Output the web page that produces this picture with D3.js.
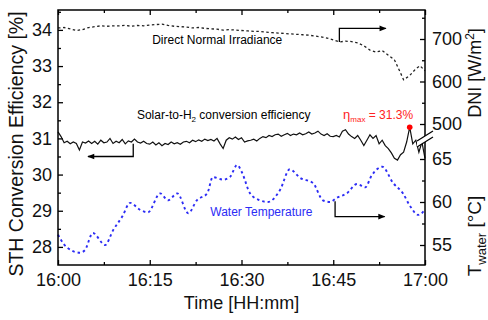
<!DOCTYPE html>
<html>
<head>
<meta charset="utf-8">
<script src="https://cdn.jsdelivr.net/npm/d3@7"></script>
<style>
  body { margin: 0; background: #fff; }
  svg { font-family: "Liberation Sans", Arial, sans-serif; }
</style>
</head>
<body>
<div id="chart"></div>
<script>
// minutes after 16:00
const xTicks = [0, 15, 30, 45, 60];
const xMinorTicks = [7.5, 22.5, 37.5, 52.5];
const xTickLabels = ['16:00', '16:15', '16:30', '16:45', '17:00'];

const effTicks = [28, 29, 30, 31, 32, 33, 34];
const effMinorTicks = [28.5, 29.5, 30.5, 31.5, 32.5, 33.5, 34.5];
const dniTicks = [500, 600, 700];
const dniMinorTicks = [550, 650, 750];
const tempTicks = [55, 60, 65];
const tempMinorTicks = [57.5, 62.5];

// Direct normal irradiance [W/m2]
const dniMin = [0, 1, 2, 3, 4, 5, 6, 7, 8, 9, 10, 11, 12, 13, 14, 15, 16, 17, 18, 19, 20,
  21, 22, 23, 24, 25, 26, 27, 28, 29, 30, 31, 32, 33, 34, 35, 36, 37, 38, 39, 40,
  41, 42, 43, 44, 45, 46, 47, 48, 49, 50, 51, 52, 53, 54, 55, 56, 56.5, 57.5, 58.5, 59.2, 60];
const dniVal = [726, 727, 724, 720, 722, 727, 729, 731, 730, 731, 731, 732, 730, 732, 731, 733, 734, 735, 732, 730, 729,
  728, 726, 727, 725, 724, 723, 721, 722, 721, 720, 719, 718, 718, 716, 715, 714, 713, 712, 711, 710,
  709, 707, 705, 702, 698, 693, 695, 694, 691, 684, 674, 669, 673, 662, 651, 620, 604, 614, 630, 637, 625];

// STH efficiency [%], one sample every 30 s
const effStep = 0.5;
const effVal = [
  31.18, 31.05, 30.88, 30.92, 30.85, 30.90, 30.86, 30.68, 30.90, 30.87,
  30.93, 30.86, 30.92, 30.84, 30.95, 30.88, 30.90, 31.00, 30.86, 30.92,
  30.88, 30.97, 30.85, 30.93, 30.90, 30.98, 30.90, 30.87, 30.92, 30.86,
  30.84, 30.90, 30.82, 30.88, 30.80, 30.86, 30.83, 30.90, 30.85, 30.88,
  30.84, 30.90, 30.92, 30.88, 30.95, 30.91, 30.96, 30.92, 30.98, 30.94,
  30.97, 30.93, 31.00, 30.85, 30.72, 30.95, 31.02, 30.98, 31.04, 30.97,
  31.02, 30.90, 30.93, 30.95, 30.98, 30.93, 31.00, 31.05, 31.02, 31.08,
  31.05, 31.10, 31.12, 31.06, 31.10, 31.14, 31.08, 31.12, 31.10, 31.15,
  31.10, 31.13, 31.18, 31.12, 31.15, 31.20, 31.12, 31.08, 31.13, 31.06,
  31.05, 31.08, 31.04, 31.20, 31.24, 31.12, 31.05, 31.00, 31.08, 30.95,
  30.80, 30.95, 31.10, 31.00, 31.08, 30.85, 30.95, 30.80, 30.72, 30.60,
  30.45, 30.40, 30.55, 30.62, 30.90, 31.31, 30.85, 30.95, 30.62, 30.90,
  30.45
];

// Water temperature [°C]
const tempMin = [0, 0.3, 1.5, 3.6, 4.4, 5.7, 7.7, 9.0, 10.5, 11.8, 13.4, 14.7, 16.7, 18.0, 19.5,
  21.3, 22.7, 24.4, 25.3, 27.0, 28.1, 29.3, 30.1, 31.4, 33.0, 34.3, 36.3, 37.9, 39.6,
  41.7, 43.3, 44.5, 45.6, 47.2, 48.9, 50.2, 51.3, 53.0, 54.8, 56.4, 57.5, 58.9, 60];
const tempVal = [56.2, 55.8, 54.7, 54.1, 54.4, 56.4, 55.0, 56.7, 58.3, 59.9, 59.1, 58.8, 61.0, 60.2, 61.0,
  58.7, 60.2, 61.0, 62.9, 62.6, 62.9, 64.3, 63.4, 61.0, 60.2, 60.0, 61.4, 63.8, 62.8,
  62.2, 60.2, 60.0, 60.5, 61.0, 62.1, 61.7, 63.1, 64.1, 62.2, 61.0, 59.6, 58.5, 59.1];

const W = 488, H = 320;
const plot = { left: 58, right: 425, top: 10, bottom: 265 };

const svg = d3.select('#chart').append('svg')
  .attr('width', W).attr('height', H);

const x = d3.scaleLinear().domain([0, 60]).range([plot.left, plot.right]);
const yEff = d3.scaleLinear().domain([27.5, 34.55]).range([plot.bottom, plot.top]);
const yDni = d3.scaleLinear().domain([500, 700]).range([124, 39]);
const yTemp = d3.scaleLinear().domain([55, 65]).range([245, 159]);

const tickFont = '18px';

function clean(g) {
  g.select('.domain').remove();
  g.selectAll('line').attr('stroke', '#000').attr('stroke-width', 1.3);
  g.selectAll('text').attr('font-size', tickFont).attr('fill', '#111').attr('font-family', null);
}

// bottom axis
svg.append('g').attr('transform', `translate(0,${plot.bottom})`)
  .call(d3.axisBottom(x).tickValues(xTicks).tickSize(-5).tickPadding(8)
    .tickFormat((d, i) => xTickLabels[i]))
  .call(clean);
svg.append('g').attr('transform', `translate(0,${plot.bottom})`)
  .call(d3.axisBottom(x).tickValues(xMinorTicks).tickSize(-3).tickFormat(''))
  .call(clean);
// top ticks
svg.append('g').attr('transform', `translate(0,${plot.top})`)
  .call(d3.axisTop(x).tickValues(xTicks).tickSize(-5).tickFormat(''))
  .call(clean);
svg.append('g').attr('transform', `translate(0,${plot.top})`)
  .call(d3.axisTop(x).tickValues(xMinorTicks).tickSize(-3).tickFormat(''))
  .call(clean);

// left axis
svg.append('g').attr('transform', `translate(${plot.left},0)`)
  .call(d3.axisLeft(yEff).tickValues(effTicks).tickSize(-5).tickPadding(6).tickFormat(d3.format('d')))
  .call(clean);
svg.append('g').attr('transform', `translate(${plot.left},0)`)
  .call(d3.axisLeft(yEff).tickValues(effMinorTicks).tickSize(-3).tickFormat(''))
  .call(clean);

// right axes
svg.append('g').attr('transform', `translate(${plot.right},0)`)
  .call(d3.axisRight(yDni).tickValues(dniTicks).tickSize(-5).tickPadding(7).tickFormat(d3.format('d')))
  .call(clean);
svg.append('g').attr('transform', `translate(${plot.right},0)`)
  .call(d3.axisRight(yDni).tickValues(dniMinorTicks).tickSize(-3).tickFormat(''))
  .call(clean);
svg.append('g').attr('transform', `translate(${plot.right},0)`)
  .call(d3.axisRight(yTemp).tickValues(tempTicks).tickSize(-5).tickPadding(7).tickFormat(d3.format('d')))
  .call(clean);
svg.append('g').attr('transform', `translate(${plot.right},0)`)
  .call(d3.axisRight(yTemp).tickValues(tempMinorTicks).tickSize(-3).tickFormat(''))
  .call(clean);

// series
const dniLine = d3.line().x((d, i) => x(dniMin[i])).y(d => yDni(d));
svg.append('path').datum(dniVal)
  .attr('d', dniLine).attr('fill', 'none')
  .attr('stroke', '#222').attr('stroke-width', 1.3).attr('stroke-dasharray', '2.5,2.5');

const tempLine = d3.line().x((d, i) => x(tempMin[i])).y(d => yTemp(d)).curve(d3.curveMonotoneX);
svg.append('path').datum(tempVal)
  .attr('d', tempLine).attr('fill', 'none')
  .attr('stroke', '#2c2cf5').attr('stroke-width', 1.9).attr('stroke-dasharray', '2.5,3');

const effLine = d3.line().x((d, i) => x(i * effStep)).y(d => yEff(d));
svg.append('path').datum(effVal)
  .attr('d', effLine).attr('fill', 'none')
  .attr('stroke', '#111').attr('stroke-width', 1.2);

// max point
const iMax = d3.maxIndex(effVal);
svg.append('circle')
  .attr('cx', x(iMax * effStep)).attr('cy', yEff(effVal[iMax]))
  .attr('r', 2.8).attr('fill', '#f00');

// frame
svg.append('rect')
  .attr('x', plot.left).attr('y', plot.top)
  .attr('width', plot.right - plot.left).attr('height', plot.bottom - plot.top)
  .attr('fill', 'none').attr('stroke', '#000').attr('stroke-width', 1.5);

// axis break on the right
const brk = svg.append('g');
brk.append('polygon')
  .attr('points', '417,141 433,131 433,137 417,147')
  .attr('fill', '#fff');
brk.append('line').attr('x1', 417).attr('y1', 141).attr('x2', 433).attr('y2', 131)
  .attr('stroke', '#000').attr('stroke-width', 1.2);
brk.append('line').attr('x1', 417).attr('y1', 147).attr('x2', 433).attr('y2', 137)
  .attr('stroke', '#000').attr('stroke-width', 1.2);

// annotations
const ann = svg.append('g').attr('font-size', '12px');
ann.append('text').attr('x', x(15.4)).attr('y', 44).text('Direct Normal Irradiance');

const solar = ann.append('text').attr('x', x(12.9)).attr('y', 119);
solar.append('tspan').text('Solar-to-H');
solar.append('tspan').attr('font-size', '8px').attr('dy', 3).text('2');
solar.append('tspan').attr('dy', -3).text(' conversion efficiency');

const eta = ann.append('text').attr('x', x(46.6)).attr('y', 119).attr('fill', '#f22');
eta.append('tspan').attr('font-size', '13px').text('η');
eta.append('tspan').attr('font-size', '8px').attr('dy', 3).text('max');
eta.append('tspan').attr('dy', -3).text(' = 31.3%');

ann.append('text').attr('x', x(24.9)).attr('y', 216).attr('fill', '#2c2cf5').text('Water Temperature');

// arrows
const defs = svg.append('defs');
defs.append('marker').attr('id', 'ah')
  .attr('viewBox', '0 0 10 10').attr('refX', 9).attr('refY', 5)
  .attr('markerWidth', 9).attr('markerHeight', 7).attr('markerUnits', 'userSpaceOnUse')
  .attr('orient', 'auto')
  .append('path').attr('d', 'M0,1 L10,5 L0,9 Z').attr('fill', '#000');

function arrow(t0, y0, y1, t1) {
  svg.append('path')
    .attr('d', `M${x(t0)},${y0} V${y1} H${x(t1)}`)
    .attr('fill', 'none').attr('stroke', '#000').attr('stroke-width', 1.3)
    .attr('marker-end', 'url(#ah)');
}
arrow(46, yDni(693), yDni(725), 53.6);
arrow(12.3, yEff(30.85), yEff(30.5), 4.9);
arrow(45.3, yTemp(60.1), yTemp(58.3), 53.4);

// axis titles
const title = svg.append('g').attr('font-size', '18px').attr('fill', '#111');
title.append('text').attr('text-anchor', 'middle')
  .attr('x', (plot.left + plot.right) / 2).attr('y', 309).text('Time [HH:mm]');
title.append('text').attr('text-anchor', 'middle').attr('font-size', '19.5px')
  .attr('transform', `translate(23,144) rotate(-90)`).text('STH Conversion Efficiency [%]');

const dniT = title.append('text').attr('text-anchor', 'middle')
  .attr('transform', `translate(481,73) rotate(-90)`);
dniT.append('tspan').text('DNI [W/m');
dniT.append('tspan').attr('font-size', '12px').attr('dy', -7).text('2');
dniT.append('tspan').attr('dy', 7).text(']');

const tT = title.append('text').attr('text-anchor', 'middle').attr('font-size', '19px')
  .attr('transform', `translate(481,236) rotate(-90)`);
tT.append('tspan').text('T');
tT.append('tspan').attr('font-size', '13px').attr('dy', 5).text('water');
tT.append('tspan').attr('dy', -5).text(' [°C]');
</script>
</body>
</html>
